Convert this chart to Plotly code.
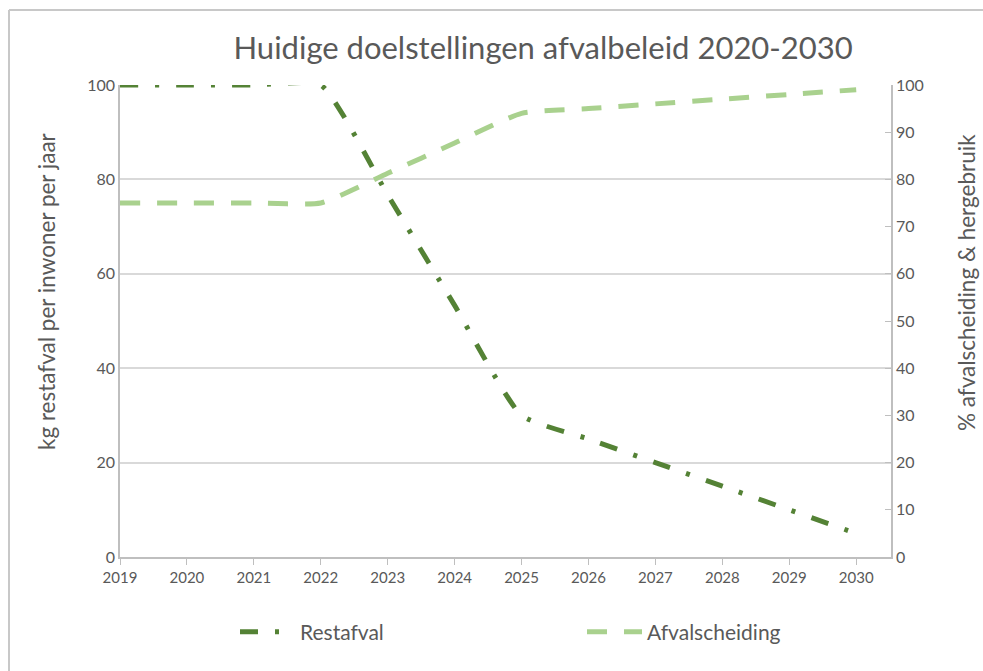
import plotly.graph_objects as go

years = [2019, 2020, 2021, 2022, 2023, 2024, 2025, 2026, 2027, 2028, 2029, 2030]
restafval = [100, 100, 100, 100, 76.7, 53.3, 30, 25, 20, 15, 10, 5]
afvalscheiding = [75, 75, 75, 75, 81.3, 87.7, 94, 95, 96, 97, 98, 99]

title_text = "Huidige doelstellingen afvalbeleid 2020-2030"
left_title = "kg restafval per inwoner per jaar"
right_title = "% afvalscheiding &amp; hergebruik"

# body margin is removed by the post script, so page pixels == figure pixels
OFF = 0
W, H = 983, 671
PL, PR, PT, PB = 120, 891, 85, 557          # plot area in page pixels
L, T = PL - OFF, PT - OFF
R, B = W - (PR - OFF), H - (PB - OFF)
pw, ph = W - L - R, H - T - B

def px(x):
    return (x - OFF - L) / pw

def py(y):
    return (H - B - (y - OFF)) / ph

FONT = "Lato"
TXT = "#595959"
DARK = "#548235"
LIGHT = "#A9D18E"

fig = go.Figure()
fig.add_trace(go.Scatter(
    x=years, y=restafval, name="Restafval", mode="lines",
    line=dict(color=DARK, width=5, dash="18px,17px,4px,17px", shape="spline", smoothing=0.5),
    yaxis="y", legend="legend", cliponaxis=False,
))
fig.add_trace(go.Scatter(
    x=years, y=afvalscheiding, name="Afvalscheiding", mode="lines",
    line=dict(color=LIGHT, width=5, dash="20px,17px", shape="spline", smoothing=0.5),
    yaxis="y2", legend="legend2", cliponaxis=False,
))

leg_common = dict(orientation="h", yanchor="middle", font=dict(size=21, color=TXT, family=FONT),
                  bgcolor="rgba(0,0,0,0)", xanchor="left", itemwidth=55)

fig.update_layout(
    width=W, height=H,
    margin=dict(l=L, r=R, t=T, b=B, autoexpand=False),
    paper_bgcolor="white", plot_bgcolor="white",
    font=dict(family=FONT, color=TXT, size=15),
    title=dict(text=title_text, x=px(546), xanchor="center", y=1 - (48 - OFF) / H, yanchor="middle",
               font=dict(size=31, color=TXT, family=FONT)),
    xaxis=dict(
        range=[2019, 2030.52], tickvals=years, ticktext=[str(y) for y in years],
        showgrid=False, showline=True, linecolor="#bfbfbf", linewidth=1.5,
        ticks="outside", ticklen=6, tickcolor="#bfbfbf", tickfont=dict(size=15, color=TXT),
        zeroline=False, fixedrange=True,
    ),
    yaxis=dict(
        range=[0, 100], tickvals=[0, 20, 40, 60, 80, 100],
        showgrid=True, gridcolor="#d9d9d9", gridwidth=1.5,
        showline=True, linecolor="#bfbfbf", linewidth=1.5, ticks="",
        tickfont=dict(size=16, color=TXT), zeroline=False,
    ),
    yaxis2=dict(
        range=[0, 100], tickvals=list(range(0, 101, 10)), overlaying="y", side="right",
        showgrid=False, showline=True, linecolor="#bfbfbf", linewidth=1.5,
        ticks="inside", ticklen=6, tickcolor="#bfbfbf",
        tickfont=dict(size=16, color=TXT), zeroline=False,
    ),
    legend=dict(x=px(235), y=py(632), **leg_common),
    legend2=dict(x=px(582), y=py(632), **leg_common),
    showlegend=True,
    annotations=[
        dict(text=left_title, textangle=-90, xref="paper", yref="paper",
             x=px(46), y=py(291), xanchor="center", yanchor="middle", showarrow=False,
             font=dict(size=22.5, color=TXT, family=FONT)),
        dict(text=right_title, textangle=-90, xref="paper", yref="paper",
             x=px(966), y=py(283), xanchor="center", yanchor="middle", showarrow=False,
             font=dict(size=22.5, color=TXT, family=FONT)),
    ],
    shapes=[
        dict(type="line", xref="paper", yref="paper", x0=px(9), x1=px(1000), y0=py(10), y1=py(10),
             line=dict(color="#c8c8c8", width=2), layer="below"),
        dict(type="line", xref="paper", yref="paper", x0=px(9), x1=px(9), y0=py(10), y1=py(700),
             line=dict(color="#c8c8c8", width=2), layer="below"),
    ],
)

fig.write_html(
    "out.html",
    config={"displayModeBar": False},
    post_script="document.body.style.margin='0px';document.documentElement.style.overflow='hidden';document.body.style.overflow='hidden';",
)
